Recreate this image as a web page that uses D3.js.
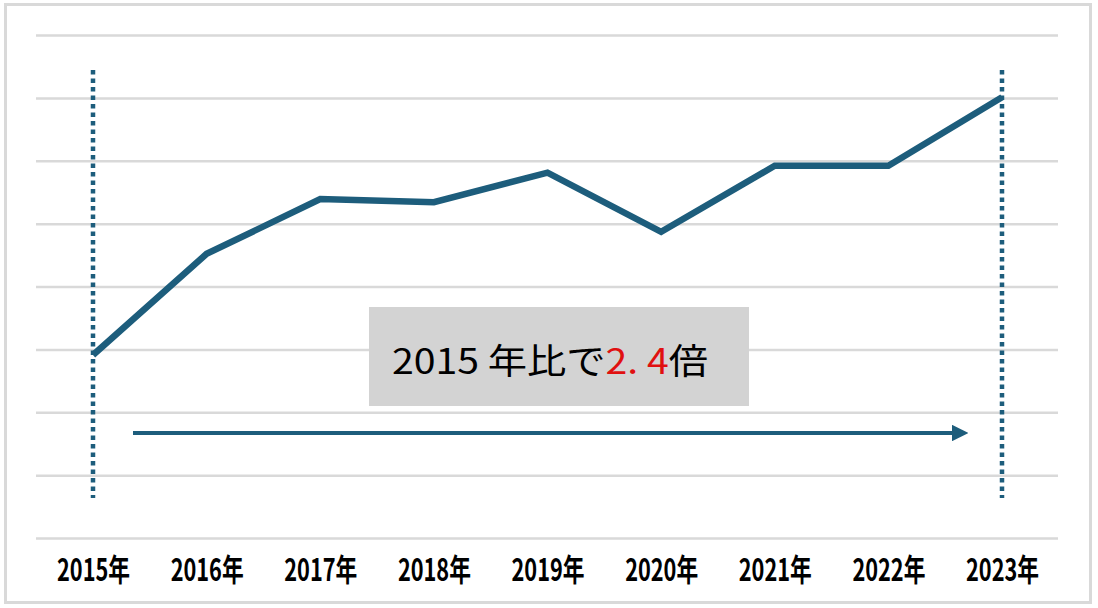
<!DOCTYPE html>
<html lang="ja">
<head>
<meta charset="utf-8">
<title>2015年比で2.4倍</title>
<script src="https://cdn.jsdelivr.net/npm/d3@7/dist/d3.min.js"></script>
<style>
  body { margin: 0; background: #fff; }
  svg { display: block; }
</style>
</head>
<body>
<div id="chart"></div>
<script>
// data (one gridline = 1 unit, baseline = 0)
var years = ["2015年", "2016年", "2017年", "2018年", "2019年", "2020年", "2021年", "2022年", "2023年"];
var values = [2.91, 4.52, 5.39, 5.34, 5.81, 4.87, 5.92, 5.92, 7.01];
var gridTicks = [0, 1, 2, 3, 4, 5, 6, 7, 8];
var markedYears = ["2015年", "2023年"];
var calloutParts = [
  { text: "2015 年比で", color: "#000" },
  { text: "2. 4", color: "#e01010" },
  { text: "倍", color: "#000" }
];

var W = 1098, H = 608;
var lineColor = "#1d5d7c";

var svg = d3.select("#chart").append("svg")
  .attr("width", W).attr("height", H);

// outer frame
svg.append("rect")
  .attr("x", 5.5).attr("y", 4.5)
  .attr("width", 1085).attr("height", 598)
  .attr("fill", "#fff")
  .attr("stroke", "#d9d9d9")
  .attr("stroke-width", 3);

var x = d3.scalePoint().domain(years).range([93, 1002]);
var y = d3.scaleLinear().domain([0, 8]).range([538, 35]);

// gridlines
var grid = svg.append("g")
  .attr("transform", "translate(36,0)")
  .call(d3.axisLeft(y).tickValues(gridTicks).tickSize(-1022).tickFormat(""));
grid.select(".domain").remove();
grid.selectAll(".tick line")
  .attr("stroke", "#d9d9d9")
  .attr("stroke-width", 2.5);

// x labels
var xAxis = svg.append("g")
  .attr("transform", "translate(0,581)")
  .call(d3.axisBottom(x).tickSize(0));
xAxis.select(".domain").remove();
xAxis.selectAll("text")
  .attr("y", 0)
  .attr("dy", 0)
  .attr("textLength", 73)
  .attr("lengthAdjust", "spacingAndGlyphs")
  .style("font-family", "'Noto Sans CJK JP', 'DejaVu Sans Condensed', sans-serif")
  .style("font-weight", "bold")
  .style("font-size", "31px")
  .style("fill", "#000");

// dotted markers at start and end year
svg.selectAll(".marker")
  .data(markedYears)
  .enter().append("line")
  .attr("class", "marker")
  .attr("x1", function(d) { return x(d); })
  .attr("x2", function(d) { return x(d); })
  .attr("y1", 70).attr("y2", 498)
  .attr("stroke", lineColor)
  .attr("stroke-width", 4.5)
  .attr("stroke-dasharray", "4.5,4");

// main line
var line = d3.line()
  .x(function(d, i) { return x(years[i]); })
  .y(function(d) { return y(d); });

svg.append("path")
  .datum(values)
  .attr("d", line)
  .attr("fill", "none")
  .attr("stroke", lineColor)
  .attr("stroke-width", 6.5)
  .attr("stroke-linejoin", "miter");

// arrow
var defs = svg.append("defs");
defs.append("marker")
  .attr("id", "arrowhead")
  .attr("viewBox", "0 0 10 10")
  .attr("refX", 2).attr("refY", 5)
  .attr("markerWidth", 4.2).attr("markerHeight", 4.2)
  .attr("markerUnits", "strokeWidth")
  .attr("orient", "auto")
  .append("path")
  .attr("d", "M0,0 L10,5 L0,10 Z")
  .attr("fill", lineColor);

var arrowY = y(1.67);
svg.append("line")
  .attr("x1", x(years[0]) + 40)
  .attr("x2", x(years[years.length - 1]) - 47)
  .attr("y1", arrowY).attr("y2", arrowY)
  .attr("stroke", lineColor)
  .attr("stroke-width", 4)
  .attr("marker-end", "url(#arrowhead)");

// callout box
svg.append("rect")
  .attr("x", 369).attr("y", 307)
  .attr("width", 380).attr("height", 99)
  .attr("fill", "#d3d3d3");

svg.append("text")
  .attr("x", 392).attr("y", 374)
  .attr("textLength", 316)
  .attr("lengthAdjust", "spacingAndGlyphs")
  .style("font-family", "'Noto Sans CJK JP', sans-serif")
  .style("font-weight", 400)
  .style("font-size", "35px")
  .selectAll("tspan")
  .data(calloutParts)
  .enter().append("tspan")
  .attr("fill", function(d) { return d.color; })
  .text(function(d) { return d.text; });
</script>
</body>
</html>
